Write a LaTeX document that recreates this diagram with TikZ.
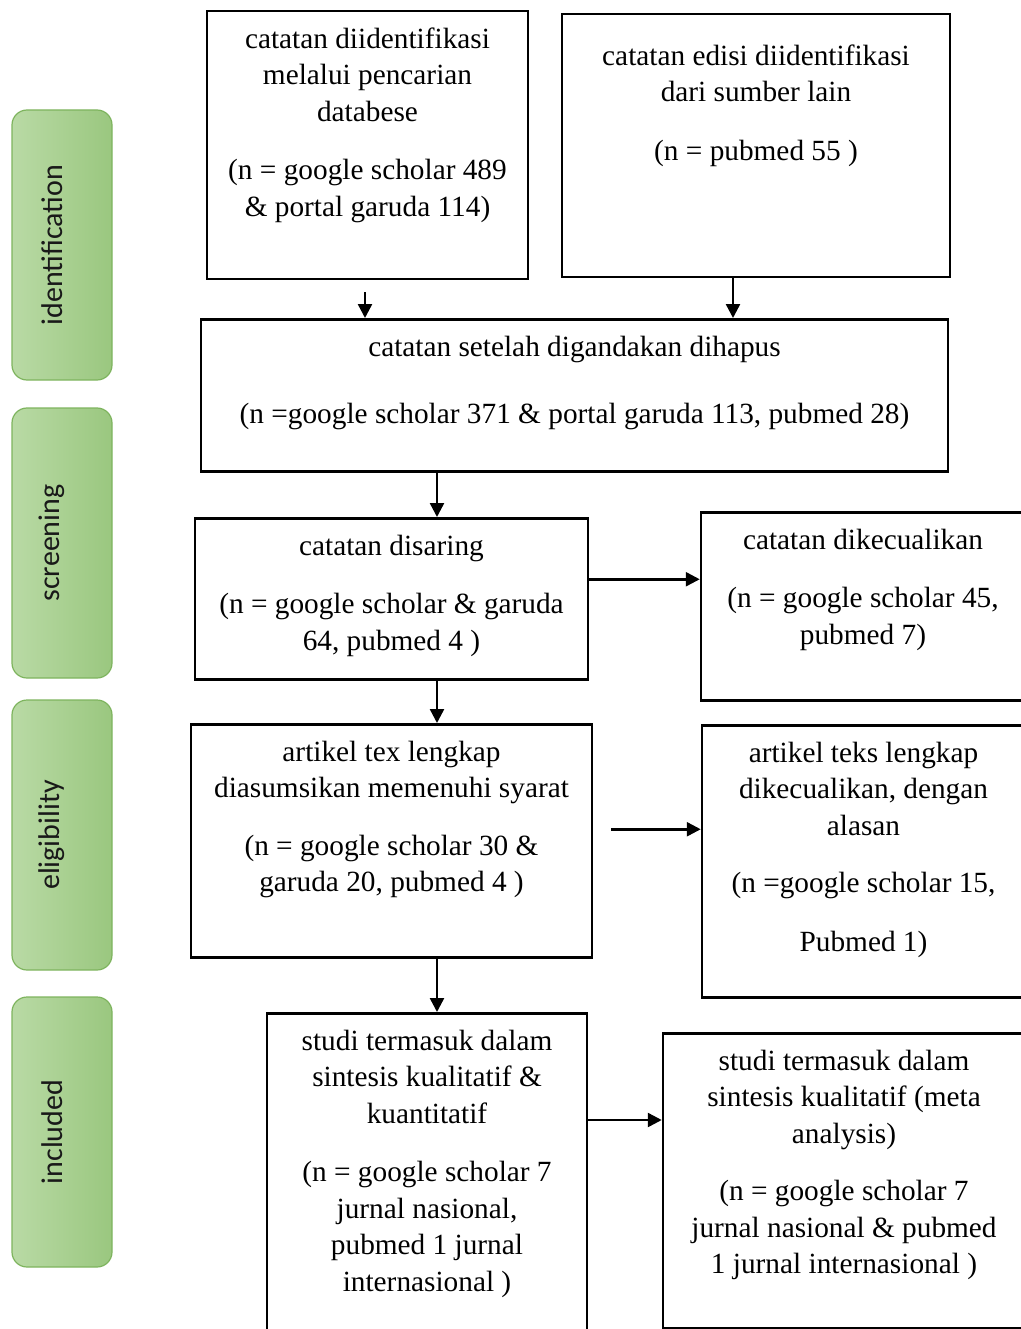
\documentclass[tikz,border=0pt]{standalone}
\usepackage{fontspec}
\setmainfont{Liberation Serif}
\newfontfamily\phasefont{Carlito}
\usepackage{graphicx}
\usepackage{tikz}
\usetikzlibrary{arrows.meta, calc, positioning}
\definecolor{phaseleft}{HTML}{B9DAA5}
\definecolor{phaseright}{HTML}{9AC77F}
\definecolor{phaseline}{HTML}{7EB45E}
\newcommand{\steptext}[1]{\begin{tabular}[t]{@{}c@{}}#1\end{tabular}}
\newcommand{\phasetext}[1]{\kern-20pt\rotatebox{90}{#1}}
\tikzstyle{stepbox} = [rectangle, line width=2.5pt, draw=black, anchor=north, inner ysep=0pt, inner xsep=6pt, text height=37pt, font=\fontsize{29.3}{36.5}\selectfont]
\tikzstyle{phase} = [rectangle, rounded corners=15pt, draw=phaseline, line width=1.2pt, left color=phaseleft, right color=phaseright, minimum width=100pt, minimum height=270pt, font=\phasefont\fontsize{30}{36}\selectfont, text=black!90]
\tikzstyle{arrow} = [line width=2.5pt, -{Triangle[width=14pt,length=14pt]}]

\begin{document}
\begin{tikzpicture}[x=1pt, y=-1pt]
		\useasboundingbox (0,0) rectangle (1020,1329);

		\node (Identification) [phase] at (62,245) {\phasetext{identification}};
		\node (Screening) [phase] at (62,543) {\phasetext{screening}};
		\node (Eligibility) [phase] at (62,835) {\phasetext{eligibility}};
		\node (Included) [phase] at (62,1132) {\phasetext{included}};

		\node (Database) [stepbox, minimum width=321pt, text depth=231pt] at (367.5,10) {\steptext{catatan diidentifikasi\\melalui pencarian\\databese\\[22pt](n = google scholar 489\\\& portal garuda 114)}};
		\node (Other) [stepbox, minimum width=388pt, text height=51pt, text depth=212pt] at (756,13) {\steptext{catatan edisi diidentifikasi\\dari sumber lain\\[22pt](n = pubmed 55 )}};
		\node (Dedup) [stepbox, minimum width=747pt, text depth=115pt] at (574.5,318) {\steptext{catatan setelah digandakan dihapus\\[31pt](n =google scholar 371 \& portal garuda 113, pubmed 28)}};
		\node (Screened) [stepbox, minimum width=393pt, text depth=124pt] at (391.5,517) {\steptext{catatan disaring\\[22pt](n = google scholar \& garuda\\64, pubmed 4 )}};
		\node (Excluded) [stepbox, minimum width=324pt, text depth=151pt] at (863,511) {\steptext{catatan dikecualikan\\[22pt](n = google scholar 45,\\pubmed 7)}};
		\node (Fulltext) [stepbox, minimum width=401pt, text depth=196pt] at (391.5,723) {\steptext{artikel tex lengkap\\diasumsikan memenuhi syarat\\[21pt](n = google scholar 30 \&\\garuda 20, pubmed 4 )}};
		\node (FulltextOut) [stepbox, minimum width=323pt, text depth=235pt] at (863.5,724) {\steptext{artikel teks lengkap\\dikecualikan, dengan\\alasan\\[21pt](n =google scholar 15,\\[22pt]Pubmed 1)}};
		\node (Synthesis) [stepbox, minimum width=320pt, text depth=296pt] at (427,1012) {\steptext{studi termasuk dalam\\sintesis kualitatif \&\\kuantitatif\\[22pt](n = google scholar 7\\jurnal nasional,\\pubmed 1 jurnal\\internasional )}};
		\node (Meta) [stepbox, minimum width=362pt, text depth=258pt] at (844,1032) {\steptext{studi termasuk dalam\\sintesis kualitatif (meta\\analysis)\\[21pt](n = google scholar 7\\jurnal nasional \& pubmed\\1 jurnal internasional )}};

		\draw [arrow] ([xshift=-2.5pt,yshift=-12pt]Database.south) -- ([xshift=-2.5pt]Database.south |- Dedup.north);
		\draw [arrow] ([xshift=-23pt]Other.south) -- ([xshift=-23pt]Other.south |- Dedup.north);
		\draw [arrow] ([xshift=45.5pt]Screened.north |- Dedup.south) -- ([xshift=45.5pt]Screened.north);
		\draw [arrow] ([yshift=19.5pt]Screened.east) -- ([yshift=19.5pt]Screened.east -| Excluded.west);
		\draw [arrow] ([xshift=45.5pt]Screened.south) -- ([xshift=45.5pt]Screened.south |- Fulltext.north);
		\draw [arrow] ([shift={(18pt,11.5pt)}]Fulltext.east) -- ([yshift=11.5pt]Fulltext.east -| FulltextOut.west);
		\draw [arrow] ([xshift=45.5pt]Fulltext.south) -- ([xshift=45.5pt]Fulltext.south |- Synthesis.north);
		\draw [arrow] ([yshift=-108pt]Synthesis.north east) -- ([yshift=-108pt]Synthesis.north east -| Meta.west);
	\end{tikzpicture}
\end{document}
